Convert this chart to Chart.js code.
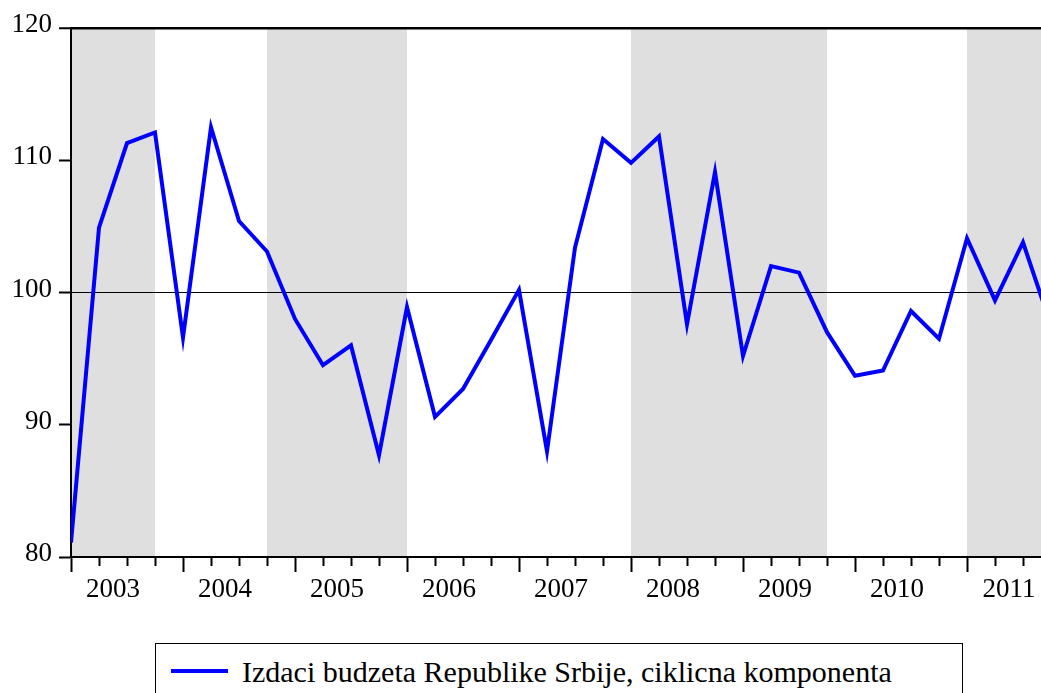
<!DOCTYPE html>
<html>
<head>
<meta charset="utf-8">
<script src="https://cdn.jsdelivr.net/npm/chart.js@4.4.1/dist/chart.umd.min.js"></script>
<style>
html,body{margin:0;padding:0;background:#fff;overflow:hidden;width:1041px;height:693px;position:relative;}
#wrap{position:absolute;left:0;top:0;width:1100px;height:693px;}
#legend{position:absolute;left:155px;top:643px;width:808px;height:70px;border:1px solid #000;box-sizing:border-box;background:#fff;}
#swatch{position:absolute;left:15px;top:25px;width:57px;height:4px;background:#0000ff;}
#ltxt{position:absolute;left:86px;top:13px;line-height:30px;white-space:nowrap;font-family:"Liberation Serif","Times New Roman",serif;font-size:30px;color:#000;}
</style>
</head>
<body>
<div id="wrap"><canvas id="c" width="1100" height="693" style="width:1100px;height:693px;"></canvas></div>
<div id="legend"><div id="swatch"></div><div id="ltxt">Izdaci budzeta Republike Srbije, ciklicna komponenta</div></div>
<script>
// ---- data ----
const quarters = [
  '2003Q1','2003Q2','2003Q3','2003Q4',
  '2004Q1','2004Q2','2004Q3','2004Q4',
  '2005Q1','2005Q2','2005Q3','2005Q4',
  '2006Q1','2006Q2','2006Q3','2006Q4',
  '2007Q1','2007Q2','2007Q3','2007Q4',
  '2008Q1','2008Q2','2008Q3','2008Q4',
  '2009Q1','2009Q2','2009Q3','2009Q4',
  '2010Q1','2010Q2','2010Q3','2010Q4',
  '2011Q1','2011Q2','2011Q3','2011Q4'
];
const cyclicalComponent = [
  81.1, 104.9, 111.3, 112.1,
  96.6, 112.5, 105.4, 103.1,
  98.0, 94.5, 96.0, 87.7,
  98.9, 90.6, 92.7, 96.4,
  100.2, 88.0, 103.4, 111.6,
  109.8, 111.8, 97.6, 109.1,
  95.2, 102.0, 101.5, 97.0,
  93.7, 94.1, 98.6, 96.5,
  104.1, 99.4, 103.8, 97.5
];
const yearLabels = ['2003','2004','2005','2006','2007','2008','2009','2010','2011'];
const yTicks = [80, 90, 100, 110, 120];
// shaded periods (start quarter, end quarter)
const shadeStart = ['2003Q1','2004Q4','2008Q1','2011Q1'];
const shadeEnd   = ['2003Q4','2006Q1','2009Q4','2011Q4'];
const seriesName = 'Izdaci budzeta Republike Srbije, ciklicna komponenta';

// ---- build ----
const points = cyclicalComponent.map((v, i) => ({x: i, y: v}));
const FONT = {family: '"Liberation Serif", "Times New Roman", serif', size: 27};

const bandPlugin = {
  id: 'bands',
  beforeDraw(chart) {
    const {ctx, chartArea, scales} = chart;
    ctx.save();
    ctx.fillStyle = '#dfdfdf';
    for (let k = 0; k < shadeStart.length; k++) {
      const x1 = scales.x.getPixelForValue(quarters.indexOf(shadeStart[k]));
      const x2 = scales.x.getPixelForValue(quarters.indexOf(shadeEnd[k]));
      ctx.fillRect(x1, chartArea.top, x2 - x1, chartArea.bottom - chartArea.top);
    }
    ctx.restore();
  }
};

new Chart(document.getElementById('c'), {
  type: 'line',
  data: {
    datasets: [{
      label: seriesName,
      data: points,
      borderColor: '#0000ff',
      borderWidth: 4,
      pointRadius: 0,
      tension: 0,
      borderJoinStyle: 'miter',
      fill: false
    }]
  },
  options: {
    responsive: false,
    animation: false,
    layout: {padding: {left: 0, top: 28, right: 49, bottom: 76}},
    plugins: {legend: {display: false}, tooltip: {enabled: false}},
    scales: {
      x: {
        type: 'linear',
        min: 0,
        max: quarters.length - 1,
        afterBuildTicks(scale) {
          const t = [];
          for (let v = 0; v <= quarters.length - 1; v += 0.5) t.push({value: v});
          scale.ticks = t;
        },
        afterFit(scale) { scale.height = 60; },
        border: {display: true, color: '#000', width: 2},
        grid: {
          drawOnChartArea: false,
          drawTicks: true,
          tickLength: 15,
          tickWidth: 2,
          tickColor: (c) => Number.isInteger(c.tick.value) ? '#000' : 'rgba(0,0,0,0)',
          tickBorderDash: (c) => (c.tick.value % 4 === 0) ? [] : [8, 100]
        },
        ticks: {
          autoSkip: false,
          maxRotation: 0,
          minRotation: 0,
          padding: 2,
          color: '#000',
          font: FONT,
          callback: (v) => {
            const k = (v - 1.5) / 4;
            return Number.isInteger(k) && k >= 0 && k < yearLabels.length ? yearLabels[k] : '';
          }
        }
      },
      y: {
        min: 80,
        max: 120,
        afterBuildTicks(scale) { scale.ticks = yTicks.map(v => ({value: v})); },
        afterFit(scale) { scale.width = 71; },
        border: {display: true, color: '#000', width: 2},
        grid: {
          drawOnChartArea: true,
          drawTicks: true,
          tickLength: 12,
          tickWidth: 2,
          tickColor: '#000',
          color: (c) => (c.tick && (c.tick.value === 100 || c.tick.value === 120)) ? '#000' : 'rgba(0,0,0,0)',
          lineWidth: (c) => (c.tick && c.tick.value === 120) ? 2.5 : 1
        },
        ticks: {
          padding: 7,
          labelOffset: -3,
          color: '#000',
          font: FONT,
          callback: (v) => String(v)
        }
      }
    }
  },
  plugins: [bandPlugin]
});
</script>
</body>
</html>
